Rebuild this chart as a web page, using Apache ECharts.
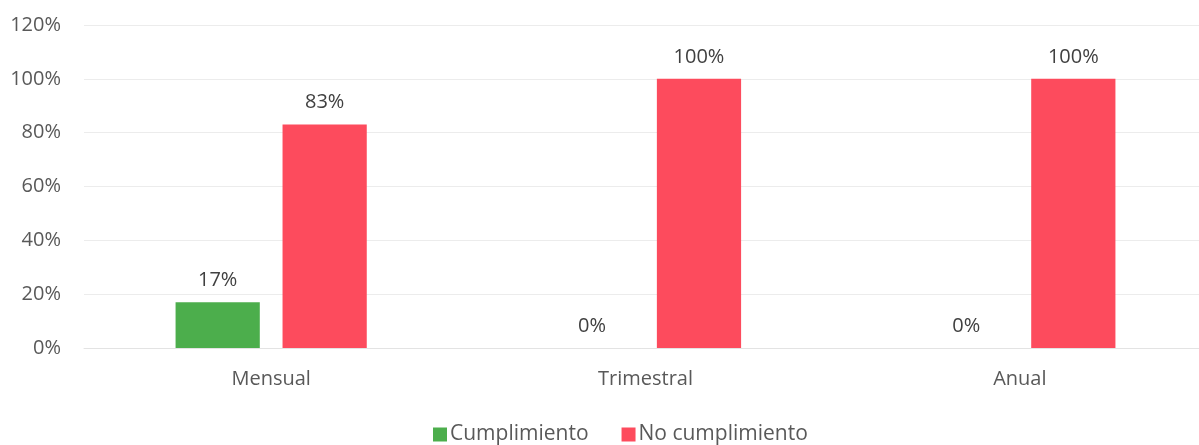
<!DOCTYPE html>
<html><head><meta charset="utf-8">
<script src="https://cdn.jsdelivr.net/npm/echarts@6/dist/echarts.min.js"></script>
<style>html,body{margin:0;padding:0;background:#fff}#c{width:1199px;height:445px}</style>
</head><body><div id="c"></div>
<script>
const categories = ['Mensual', 'Trimestral', 'Anual'];
const cumplimiento = [17, 0, 0];
const noCumplimiento = [83, 100, 100];
const seriesNames = ['Cumplimiento', 'No cumplimiento'];

const chart = echarts.init(document.getElementById('c'));
const font = '"Open Sans", sans-serif';
const lbl = {show: true, position: 'top', distance: 12, color: '#404040', fontSize: 20, fontFamily: font, formatter: p => p.value + '%'};
chart.setOption({
  animation: false,
  textStyle: {fontFamily: font},
  grid: {left: 84, width: 1123, top: 25, bottom: 97, outerBoundsMode: 'none', containLabel: false},
  legend: {
    bottom: -5, left: 428, itemWidth: 14, itemHeight: 14, itemGap: 33,
    icon: 'rect',
    textStyle: {color: '#595959', fontSize: 21, fontFamily: font, padding: [0, 0, 0, -2]},
    data: seriesNames
  },
  xAxis: {
    type: 'category', data: categories,
    axisLine: {lineStyle: {color: '#e3e3e3'}},
    axisTick: {show: false},
    axisLabel: {color: '#595959', fontSize: 20, margin: 21, fontFamily: font}
  },
  yAxis: {
    type: 'value', min: 0, max: 120, interval: 20,
    axisLabel: {color: '#595959', fontSize: 20, margin: 23, formatter: '{value}%', fontFamily: font},
    splitLine: {lineStyle: {color: '#ececec'}},
    axisLine: {show: false}, axisTick: {show: false}
  },
  series: [
    {name: seriesNames[0], type: 'bar', data: cumplimiento, barWidth: '22.5%', barGap: '27%',
     itemStyle: {color: '#4cae4c'}, label: lbl},
    {name: seriesNames[1], type: 'bar', data: noCumplimiento, barWidth: '22.5%', barGap: '27%',
     itemStyle: {color: '#fd4b5d'}, label: lbl}
  ]
});
</script></body></html>
